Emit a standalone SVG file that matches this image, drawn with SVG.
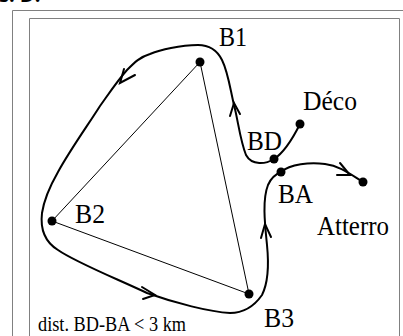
<svg xmlns="http://www.w3.org/2000/svg" width="403" height="336" viewBox="0 0 403 336">
<style>
.lbl{font-family:"Liberation Serif","Times New Roman",serif;font-size:28px;fill:#000}
.small{font-family:"Liberation Serif","Times New Roman",serif;font-size:20px;fill:#000}
.dot{fill:#000}
.leg{fill:none;stroke:#000;stroke-width:1}
.track{fill:none;stroke:#000;stroke-width:2;stroke-linejoin:round;stroke-linecap:round}
.arr{fill:none;stroke:#000;stroke-width:2;stroke-linejoin:miter;stroke-linecap:round}
.frame{fill:none;stroke:#808080;stroke-width:1}
</style>
<rect x="0" y="0" width="403" height="336" fill="#fff"/>
<text x="-1" y="2" font-family="Open Sans, Liberation Sans, sans-serif" font-size="20" font-weight="bold">s. D.</text>
<path class="frame" d="M12.5,336 V10.5 H403"/>
<path class="frame" d="M29.5,340 V18.5 H399.5 V340"/>
<g id="connectors">
<path class="leg" d="M200,62 L52,221 L249,294 Z"/>
<path class="track" d="M300,124 C294,136 285,152 274,159 C266,164 252,166 246,155 C240,140 238,120 234,105 C230,88 228,72 222,60 C217,50 210,45 198,45 C180,45 160,50 150,54 C140,57 135,62 127,70 C118,80 110,92 100,106 C88,125 70,150 58,172 C50,186 44,200 42,213 C40,230 45,242 58,250 C75,262 115,278 147,293 C175,303 210,312 230,313 C245,313 255,305 262,295 C268,283 269,265 267,245 C265,225 262,200 268,185 C271,178 276,174 281,172 C290,164 310,162 325,164 C340,166 350,174 363,182"/>
<polyline class="arr" points="230,116 234,103 240,114"/>
<polyline class="arr" points="124,69 120,83 135,75"/>
<polyline class="arr" points="142,287 155,295 143,299"/>
<polyline class="arr" points="261,238 265,224 271,237"/>
<polyline class="arr" points="340,163 350,175 337,175"/>
</g>
<g id="B1"><circle class="dot" cx="200" cy="62" r="4.5"/><text class="lbl" x="219" y="46" textLength="28" lengthAdjust="spacingAndGlyphs">B1</text></g>
<g id="B2"><circle class="dot" cx="52" cy="221" r="4.5"/><text class="lbl" x="75" y="223" textLength="30" lengthAdjust="spacingAndGlyphs">B2</text></g>
<g id="B3"><circle class="dot" cx="249" cy="294" r="4.5"/><text class="lbl" x="264" y="327" textLength="30" lengthAdjust="spacingAndGlyphs">B3</text></g>
<g id="BD"><circle class="dot" cx="274" cy="159" r="4.5"/><text class="lbl" x="247" y="150" textLength="35" lengthAdjust="spacingAndGlyphs">BD</text></g>
<g id="BA"><circle class="dot" cx="281" cy="172" r="4.5"/><text class="lbl" x="278" y="203" textLength="35" lengthAdjust="spacingAndGlyphs">BA</text></g>
<g id="Deco"><circle class="dot" cx="300" cy="124" r="4.5"/><text class="lbl" x="303" y="110" textLength="54" lengthAdjust="spacingAndGlyphs">Déco</text></g>
<g id="Atterro"><circle class="dot" cx="363" cy="182" r="4.5"/><text class="lbl" x="317" y="235" textLength="72" lengthAdjust="spacingAndGlyphs">Atterro</text></g>
<text class="small" x="38" y="331" textLength="148" lengthAdjust="spacingAndGlyphs">dist. BD-BA &lt; 3 km</text>
</svg>
